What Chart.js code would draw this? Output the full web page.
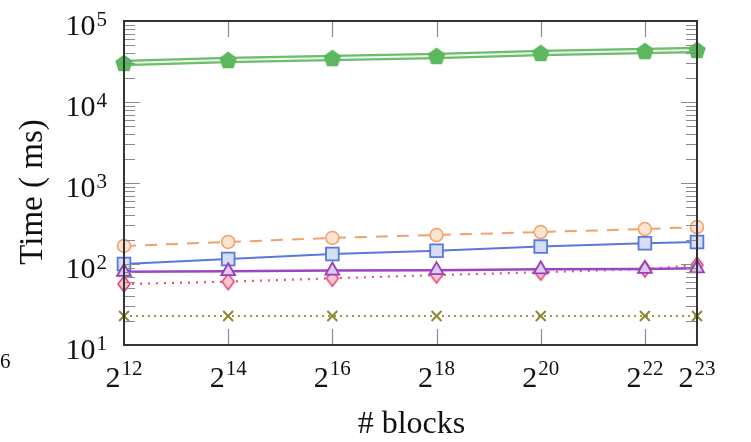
<!DOCTYPE html>
<html>
<head>
<meta charset="utf-8">
<script src="https://cdn.jsdelivr.net/npm/chart.js@4.4.1/dist/chart.umd.min.js"></script>
<style>
  html, body { margin: 0; padding: 0; background: #fff; }
  #wrap { width: 751px; height: 442px; position: relative; }
</style>
</head>
<body>
<div id="wrap"><canvas id="timeChart" width="751" height="442"></canvas></div>
<script>
// x values: number of blocks (2^12 ... 2^23)
const blocks = [4096, 16384, 65536, 262144, 1048576, 4194304, 8388608];
const xTickExps = [12, 14, 16, 18, 20, 22, 23];
const yTickExps = [1, 2, 3, 4, 5];

// time in ms
const timePentagon = [30300, 33000, 34900, 37000, 40300, 42600, 43900];
const timeCircle   = [167, 187, 210, 228, 248, 270, 286];
const timeSquare   = [100, 115, 133, 146, 164, 180, 187];
const timeTriangle = [80, 81.5, 83, 84, 86, 87, 88.5];
const timeDiamond  = [56.6, 60.5, 66.6, 73, 79, 86.7, 97];
const timeCross    = [22.8, 22.8, 22.8, 22.8, 22.8, 22.8, 22.8];

const serif = "'Liberation Serif', 'DejaVu Serif', serif";

function makeMarker(w, h, draw) {
    const c = document.createElement("canvas");
    c.width = w;
    c.height = h;
    draw(c.getContext("2d"), w, h);
    return c;
}

const pentagon = makeMarker(20, 20, (ctx, w, h) => {
    const r = 9.2;
    ctx.beginPath();
    for (let i = 0; i < 5; i++) {
        const a = -Math.PI / 2 + i * 2 * Math.PI / 5;
        const px = w / 2 + r * Math.cos(a);
        const py = h / 2 + 0.8 + r * Math.sin(a);
        if (i === 0) ctx.moveTo(px, py); else ctx.lineTo(px, py);
    }
    ctx.closePath();
    ctx.fillStyle = "#5cb85c";
    ctx.fill();
});

const diamond = makeMarker(16, 20, (ctx, w, h) => {
    ctx.beginPath();
    ctx.moveTo(w / 2, 2);
    ctx.lineTo(w - 2, h / 2);
    ctx.lineTo(w / 2, h - 2);
    ctx.lineTo(2, h / 2);
    ctx.closePath();
    ctx.fillStyle = "#f6c8d3";
    ctx.fill();
    ctx.lineWidth = 1.5;
    ctx.strokeStyle = "#e2456f";
    ctx.stroke();
});

function toPoints(ys) {
    return blocks.map((b, i) => ({ x: b, y: ys[i] }));
}

// frame, inward ticks and superscript labels
const axesPlugin = {
    id: "pgfAxes",
    afterDatasetsDraw(chart) {
        const { ctx, chartArea: a, scales } = chart;
        const xs = scales.x, ys = scales.y;
        ctx.save();

        // ticks
        ctx.strokeStyle = "#8a8a8a";
        ctx.lineWidth = 1.2;
        ctx.beginPath();
        for (let e = 1; e <= 4; e++) {
            for (let m = 1; m <= 9; m++) {
                if (m === 1 && e === 1) continue;
                const y = Math.round(ys.getPixelForValue(m * 10 ** e)) + 0.5;
                const len = m === 1 ? 16 : 11;
                ctx.moveTo(a.left, y); ctx.lineTo(a.left + len, y);
                ctx.moveTo(a.right, y); ctx.lineTo(a.right - len, y);
            }
        }
        blocks.slice(1, -1).forEach(b => {
            const x = Math.round(xs.getPixelForValue(b)) + 0.5;
            ctx.moveTo(x, a.top); ctx.lineTo(x, a.top + 16);
            ctx.moveTo(x, a.bottom); ctx.lineTo(x, a.bottom - 16);
        });
        ctx.stroke();

        // frame
        ctx.strokeStyle = "#333";
        ctx.lineWidth = 2;
        ctx.strokeRect(a.left, a.top, a.right - a.left, a.bottom - a.top);

        ctx.fillStyle = "#111";
        ctx.textBaseline = "alphabetic";
        const baseFont = "30px " + serif;
        const supFont = "21px " + serif;

        // y tick labels 10^k
        yTickExps.forEach(e => {
            const y = ys.getPixelForValue(10 ** e);
            const right = a.left - 17;
            ctx.font = supFont;
            const sup = String(e);
            const sw = ctx.measureText(sup).width;
            ctx.textAlign = "left";
            ctx.fillText(sup, right - sw, y + 5);
            ctx.font = baseFont;
            const bw = ctx.measureText("10").width;
            ctx.fillText("10", right - sw - bw - 1, y + 14);
        });

        // x tick labels 2^k
        xTickExps.forEach((e, i) => {
            const x = xs.getPixelForValue(blocks[i]);
            ctx.font = baseFont;
            const bw = ctx.measureText("2").width;
            ctx.font = supFont;
            const sw = ctx.measureText(String(e)).width;
            const left = x - (bw + sw + 1) / 2;
            ctx.textAlign = "left";
            ctx.font = baseFont;
            ctx.fillText("2", left, a.bottom + 42);
            ctx.font = supFont;
            ctx.fillText(String(e), left + bw + 1, a.bottom + 30);
        });

        // axis titles
        ctx.font = "32px " + serif;
        ctx.textAlign = "center";
        ctx.fillText("# blocks", (a.left + a.right) / 2 + 1, a.bottom + 88);
        ctx.save();
        ctx.translate(42, 192);
        ctx.rotate(-Math.PI / 2);
        ctx.font = "33px " + serif;
        ctx.fillText("Time ( ms)", 0, 0);
        ctx.restore();

        // clipped label from the neighbouring plot
        ctx.font = supFont;
        ctx.textAlign = "left";
        ctx.fillText("6", 0, 368);

        ctx.restore();
    }
};

const ctx = document.getElementById("timeChart").getContext("2d");
new Chart(ctx, {
    type: "line",
    data: {
        datasets: [
            {
                data: toPoints(timeTriangle),
                borderColor: "#9b45c0", borderWidth: 2.5,
                pointStyle: "triangle", pointRadius: 8,
                pointBackgroundColor: "#dccaef", pointBorderColor: "#9a3dbd", pointBorderWidth: 1.8,
                order: 1
            },
            {
                data: toPoints(timeDiamond),
                borderColor: "#e8507a", borderWidth: 2.2, borderDash: [2, 6],
                pointStyle: diamond,
                order: 2
            },
            {
                data: toPoints(timeSquare),
                borderColor: "#5a78dc", borderWidth: 2,
                pointStyle: "rect", pointRadius: 9,
                pointBackgroundColor: "#d6ddf6", pointBorderColor: "#5a78dc", pointBorderWidth: 1.8,
                order: 3
            },
            {
                data: toPoints(timeCircle),
                borderColor: "#f0a26a", borderWidth: 2, borderDash: [12, 9],
                pointStyle: "circle", pointRadius: 6.5,
                pointBackgroundColor: "#fce3cf", pointBorderColor: "#f0a26a", pointBorderWidth: 1.5,
                order: 4
            },
            {
                data: toPoints(timeCross),
                borderColor: "#9a9a3c", borderWidth: 2, borderDash: [2, 4],
                pointStyle: "crossRot", pointRadius: 7,
                pointBorderColor: "#8a8a30", pointBorderWidth: 2,
                order: 5
            },
            {
                // inner light stroke of the double line, carries the markers
                data: toPoints(timePentagon),
                borderColor: "#eef8ee", borderWidth: 2,
                pointStyle: pentagon,
                order: 6
            },
            {
                data: toPoints(timePentagon),
                borderColor: "#6cbd6c", borderWidth: 6.5,
                pointRadius: 0,
                order: 7
            }
        ]
    },
    options: {
        responsive: false,
        animation: false,
        clip: false,
        layout: { padding: { left: 124, top: 21, right: 54, bottom: 97 } },
        plugins: { legend: { display: false }, tooltip: { enabled: false } },
        elements: { line: { tension: 0 }, point: { hoverRadius: 0 } },
        scales: {
            x: { type: "logarithmic", min: 4096, max: 8388608, display: false },
            y: { type: "logarithmic", min: 10, max: 100000, display: false }
        }
    },
    plugins: [axesPlugin]
});
</script>
</body>
</html>
